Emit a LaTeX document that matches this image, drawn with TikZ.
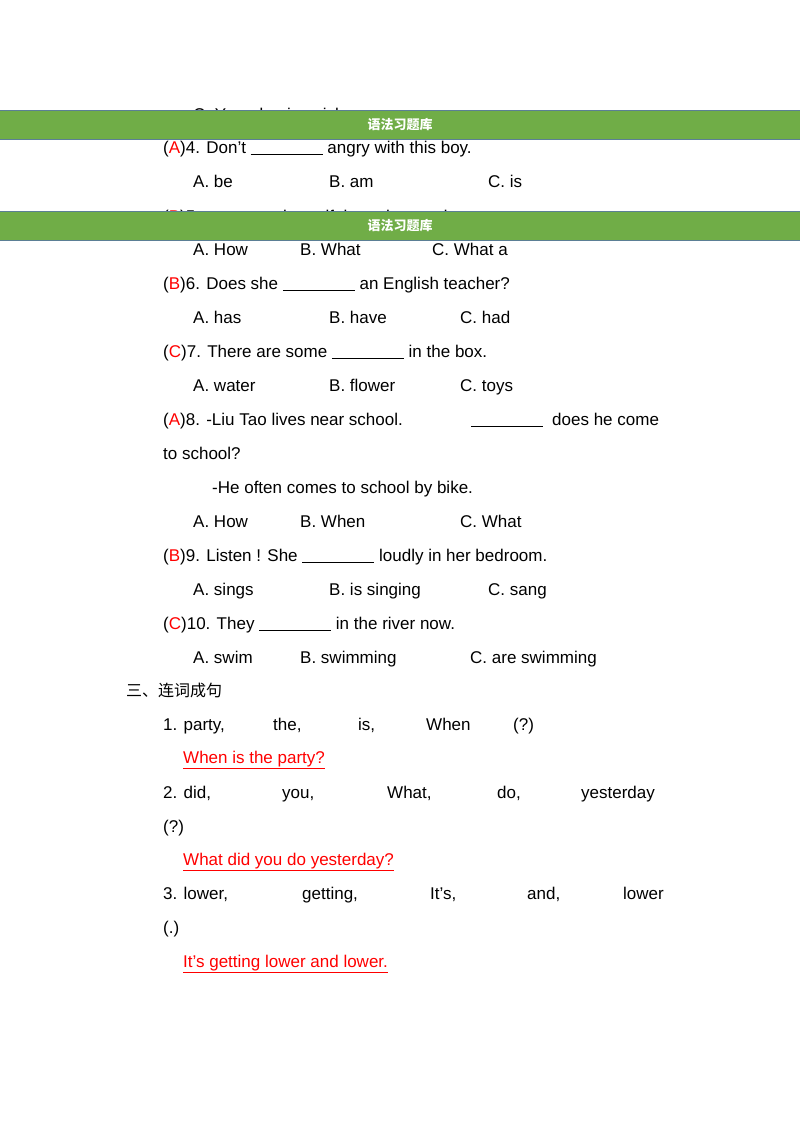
\documentclass[tikz,border=0pt]{standalone}
\usepackage{fontspec}
\setmainfont{Liberation Sans}
\newfontfamily\cjk{Noto Sans CJK SC}
\definecolor{bangreen}{HTML}{70AD47}
\definecolor{banedge}{HTML}{5B7F95}
\newcommand{\blk}{\rule[-2pt]{72pt}{0.8pt}}
\newcommand{\ans}[1]{(\textcolor{red}{#1})}
\begin{document}
\begin{tikzpicture}[x=1pt,y=-1pt,
  t/.style={anchor=base west,inner sep=0pt,font=\fontsize{17}{20}\selectfont},
  r/.style={t,text=red},
  banner/.style={fill=bangreen,draw=banedge,line width=0.8pt}]
\useasboundingbox (0,0) rectangle (800,1132);
\fill[white] (0,0) rectangle (800,1132);
% partial lines hidden by banners
\node[t] at (193,120) {C. Your dog is quick.};
\node[t] at (163,222) {\ans{B}5. \blk\ beautiful are the pandas};
% lines
\node[t] at (163,153) {\ans{A}4. Don't \blk\ angry with this boy.};
\node[t] at (193,187) {A. be}; \node[t] at (329,187) {B. am}; \node[t] at (488,187) {C. is};
\node[t] at (193,255) {A. How}; \node[t] at (300,255) {B. What}; \node[t] at (432,255) {C. What a};
\node[t] at (163,289) {\ans{B}6. Does she \blk\ an English teacher?};
\node[t] at (193,323) {A. has}; \node[t] at (329,323) {B. have}; \node[t] at (460,323) {C. had};
\node[t] at (163,357) {\ans{C}7. There are some \blk\ in the box.};
\node[t] at (193,391) {A. water}; \node[t] at (329,391) {B. flower}; \node[t] at (460,391) {C. toys};
\node[t] at (163,425) {\ans{A}8. -Liu Tao lives near school.};
\node[t] at (471,425) {\blk}; \node[t] at (552,425) {does he come};
\node[t] at (163,459) {to school?};
\node[t] at (212,493) {-He often comes to school by bike.};
\node[t] at (193,527) {A. How}; \node[t] at (300,527) {B. When}; \node[t] at (460,527) {C. What};
\node[t] at (163,561) {\ans{B}9. Listen ! She \blk\ loudly in her bedroom.};
\node[t] at (193,595) {A. sings}; \node[t] at (329,595) {B. is singing}; \node[t] at (488,595) {C. sang};
\node[t] at (163,629) {\ans{C}10. They \blk\ in the river now.};
\node[t] at (193,663) {A. swim}; \node[t] at (300,663) {B. swimming}; \node[t] at (470,663) {C. are swimming};
\node[t,font=\cjk\fontsize{16}{19}\selectfont] at (126,696) {三、连词成句};
\node[t] at (163,730) {1. party,}; \node[t] at (273,730) {the,}; \node[t] at (358,730) {is,}; \node[t] at (426,730) {When}; \node[t] at (513,730) {(?)};
\node[r] at (183,763) {\underline{When is the party?}};
\node[t] at (163,798) {2. did,}; \node[t] at (282,798) {you,}; \node[t] at (387,798) {What,}; \node[t] at (497,798) {do,}; \node[t] at (581,798) {yesterday};
\node[t] at (163,832) {(?)};
\node[r] at (183,865) {\underline{What did you do yesterday?}};
\node[t] at (163,899) {3. lower,}; \node[t] at (302,899) {getting,}; \node[t] at (430,899) {It's,}; \node[t] at (527,899) {and,}; \node[t] at (623,899) {lower};
\node[t] at (163,933) {(.)};
\node[r] at (183,967) {\underline{It's getting lower and lower.}};
% banners
\draw[banner] (-1,110) rectangle (801,139);
\node[font=\cjk\bfseries\fontsize{13}{15}\selectfont,text=white] (b1) at (400,125) {语法习题库};
\draw[banner] (-1,211) rectangle (801,240);
\node[font=\cjk\bfseries\fontsize{13}{15}\selectfont,text=white] (b2) at (400,226) {语法习题库};
\end{tikzpicture}
\end{document}
